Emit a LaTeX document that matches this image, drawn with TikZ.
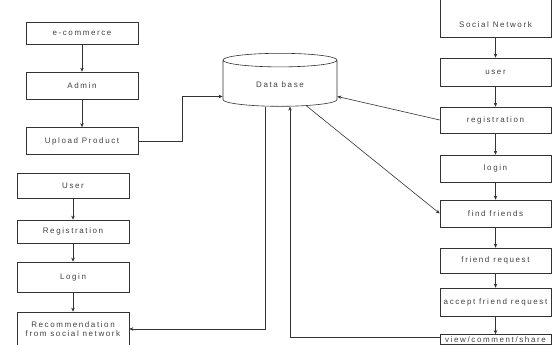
\documentclass[tikz,border=0pt]{standalone}
\usepackage{fontspec}
\setmainfont{Liberation Sans}[LetterSpace=20]
\usetikzlibrary{positioning,shapes.geometric,arrows.meta}

\tikzset{
  box/.style={draw=black!80, line width=0.6pt, minimum width=112pt, minimum height=26pt,
    inner sep=2pt, font=\fontsize{8}{9}\selectfont, text=black!75},
  dbase/.style={draw=black!80, line width=0.6pt, cylinder, shape border rotate=90, aspect=0.25,
    minimum width=114pt, minimum height=53pt, font=\fontsize{8}{9}\selectfont, text=black!75},
  arr/.style={draw=black!80, line width=0.6pt, -{Stealth[length=4pt,width=3.5pt]}},
}

\begin{document}
\begin{tikzpicture}[x=1pt,y=1pt]
\useasboundingbox (0,0) rectangle (552,345);

% e-commerce side
\node[box, minimum height=22pt] (ecom) at (82,312) {e-commerce};
\node[box, minimum height=27pt] (admin) at (82,259.5) {Admin};
\node[box, minimum height=27pt] (upload) at (82,204) {Upload Product};

% user side
\node[box, minimum height=25pt] (user1) at (73,159.5) {User};
\node[box, minimum height=23pt] (reg1) at (73,113.5) {Registration};
\node[box, minimum height=30pt] (login1) at (73,68) {Login};
\node[box, minimum height=34pt, align=center] (recom) at (73,16) {Recommendation\\from social network};

% database
\node[dbase] (db) at (280,260.5) {Data base};

% social network side
\node[box, minimum width=111pt, minimum height=50pt, text height=30pt, anchor=south] (social) at (495.5,307) {Social Network};
\node[box, minimum width=111pt, minimum height=28pt] (user2) at (495.5,273) {user};
\node[box, minimum width=111pt, minimum height=26pt] (reg2) at (495.5,225) {registration};
\node[box, minimum width=111pt, minimum height=27pt] (login2) at (495.5,176.5) {login};
\node[box, minimum width=111pt, minimum height=27pt] (find) at (495.5,131.5) {find friends};
\node[box, minimum width=111pt, minimum height=25pt] (freq) at (495.5,84.5) {friend request};
\node[box, minimum width=111pt, minimum height=28pt] (accept) at (495.5,43) {accept friend request};
\node[box, minimum width=111pt, minimum height=10pt, inner ysep=1pt] (view) at (495.5,5.5) {view/comment/share};

% chains
\draw[arr] (ecom) -- (admin);
\draw[arr] (admin) -- (upload);
\draw[arr] (user1) -- (reg1);
\draw[arr] (reg1) -- (login1);
\draw[arr] (login1) -- (recom);
\draw[arr] (social) -- (user2);
\draw[arr] (user2) -- (reg2);
\draw[arr] (reg2) -- (login2);
\draw[arr] (login2) -- (find);
\draw[arr] (find) -- (freq);
\draw[arr] (freq) -- (accept);
\draw[arr] (accept) -- (view);

% to and from the database
\draw[arr] (upload.east) -- ++(44,0) |- ([yshift=-12pt]db.west);
\draw[arr] (reg2.west) -- ([yshift=-12pt]db.east);
\draw[arr] (db) -- (find.west);
\draw[arr] ([xshift=-15pt]db.south) |- (recom.east);
\draw[arr] ([yshift=2pt]view.west) -| ([xshift=10pt]db.south);
\end{tikzpicture}
\end{document}
